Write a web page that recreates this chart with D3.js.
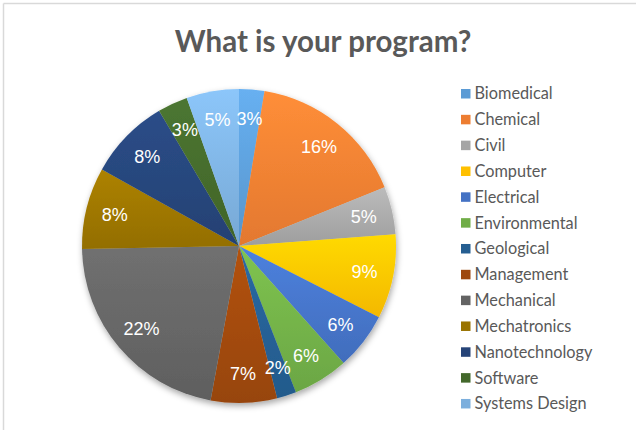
<!DOCTYPE html>
<html>
<head>
<meta charset="utf-8">
<script src="https://cdn.jsdelivr.net/npm/d3@7"></script>
<style>
  html, body { margin: 0; padding: 0; background: #ffffff; }
  svg { display: block; }
</style>
</head>
<body>
<svg id="chart" width="636" height="430"></svg>
<script>
const title = "What is your program?";
const categories = ["Biomedical", "Chemical", "Civil", "Computer", "Electrical", "Environmental",
  "Geological", "Management", "Mechanical", "Mechatronics", "Nanotechnology", "Software", "Systems Design"];
const values = [2.6, 16.3, 4.9, 8.7, 5.9, 5.7, 2.0, 6.8, 21.8, 8.4, 8.4, 3.1, 5.4];
const colors = ["#5B9BD5", "#ED7D31", "#A5A5A5", "#FFC000", "#4472C4", "#70AD47",
  "#255E91", "#9E480E", "#636363", "#997300", "#264478", "#43682B", "#7CAFDD"];

const W = 636, H = 430;
const cx = 239, cy = 246, R = 157, labelR = 128;

const svg = d3.select("#chart");
const defs = svg.append("defs");

// chart border (partially visible)
svg.append("line").attr("x1", 3.5).attr("x2", W).attr("y1", 3.5).attr("y2", 3.5)
  .attr("stroke", "#d9d9d9").attr("stroke-width", 1.5);
svg.append("line").attr("x1", 3.5).attr("x2", 3.5).attr("y1", 3.5).attr("y2", H)
  .attr("stroke", "#d9d9d9").attr("stroke-width", 1.5);

// title
svg.append("text")
  .attr("x", 323).attr("y", 52)
  .attr("text-anchor", "middle")
  .attr("font-family", "Lato, 'Open Sans', sans-serif")
  .attr("font-weight", "bold")
  .attr("font-size", 29.5)
  .attr("fill", "#595959")
  .text(title);

// shadow filter
const f = defs.append("filter").attr("id", "shadow")
  .attr("x", "-20%").attr("y", "-20%").attr("width", "140%").attr("height", "140%");
f.append("feDropShadow").attr("dx", 1).attr("dy", 3).attr("stdDeviation", 3)
  .attr("flood-color", "#000").attr("flood-opacity", 0.35);

// gradients
colors.forEach((c, i) => {
  const g = defs.append("linearGradient").attr("id", "grad" + i)
    .attr("x1", 0).attr("y1", 0).attr("x2", 0).attr("y2", 1);
  g.append("stop").attr("offset", "0%").attr("stop-color", d3.rgb(c).brighter(0.35).formatHex());
  g.append("stop").attr("offset", "100%").attr("stop-color", d3.rgb(c).darker(0.12).formatHex());
});

const data = categories.map((c, i) => ({ name: c, value: values[i], idx: i }));
const pie = d3.pie().value(d => d.value).sort(null);
const arcs = pie(data);
const total = d3.sum(values);

const arc = d3.arc().innerRadius(0).outerRadius(R);
const labelArc = d3.arc().innerRadius(labelR).outerRadius(labelR);

const gPie = svg.append("g").attr("transform", `translate(${cx},${cy})`);
const gSlices = gPie.append("g").attr("filter", "url(#shadow)");
gSlices.selectAll("path").data(arcs).join("path")
  .attr("d", arc)
  .attr("fill", d => `url(#grad${d.data.idx})`);

gPie.selectAll("text.lbl").data(arcs).join("text")
  .attr("class", "lbl")
  .attr("transform", d => `translate(${labelArc.centroid(d)})`)
  .attr("text-anchor", "middle")
  .attr("dy", "0.36em")
  .attr("font-family", "'Liberation Sans', Arial, sans-serif")
  .attr("font-size", 18)
  .attr("fill", "#ffffff")
  .text(d => Math.round(d.data.value / total * 100) + "%");

// legend
const lg = svg.append("g").attr("transform", "translate(461,93.5)");
const rowH = 25.83;
const items = lg.selectAll("g").data(data).join("g")
  .attr("transform", (d, i) => `translate(0,${i * rowH})`);
items.append("rect").attr("x", 0).attr("y", -4.5).attr("width", 9.5).attr("height", 9.5)
  .attr("fill", d => colors[d.idx]);
items.append("text").attr("x", 13.5).attr("y", 0).attr("dy", "0.36em")
  .attr("font-family", "Lato, 'Open Sans', sans-serif")
  .attr("font-size", 16.3)
  .attr("fill", "#595959")
  .text(d => d.name);
</script>
</body>
</html>
